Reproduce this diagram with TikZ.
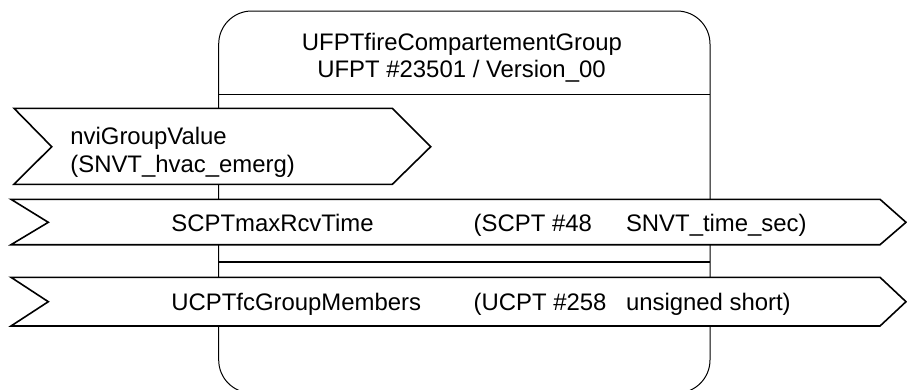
\documentclass[tikz,border=0pt]{standalone}
\usepackage{fontspec}
\setmainfont{Liberation Sans}
\begin{document}
\begin{tikzpicture}[x=1pt,y=-1pt,
  txt/.style={inner sep=0pt, anchor=base west, font=\fontsize{23.9}{27}\selectfont},
  ctxt/.style={inner sep=0pt, anchor=base, font=\fontsize{23.9}{27}\selectfont},
  flow/.style={draw, fill=white, line width=1.6pt, line join=miter},
  sep/.style={line width=1.6pt},
]
\useasboundingbox (0,0) rectangle (907,389);
% functional block outline (cut at the bottom)
\draw[line width=1pt, rounded corners=33pt] (218.7,393) rectangle (710,11);
\coordinate (hL) at (218.7,94.3);
\coordinate (hR) at (710,94.3);
\draw[sep] (hL) -- (hR);
\coordinate (mL) at (218.7,261.7);
\coordinate (mR) at (710,261.7);
\draw[sep] (mL) -- (mR);
% title
\node[ctxt] (title1) at (462,50) {UFPTfireCompartementGroup};
\node[ctxt] (title2) at (461.5,77.7) {UFPT \#23501 / Version\_00};
% network variable input
\draw[flow] (14,108.3) -- (392.3,108.3) -- (430.7,146.7) -- (392.3,184.3) -- (14,184.3) -- (51.7,146.7) -- cycle;
\node[txt] (nvi1) at (70.2,144.5) {nviGroupValue};
\node[txt] (nvi2) at (70.2,172) {(SNVT\_hvac\_emerg)};
% configuration property 1
\draw[flow] (11,199.3) -- (880,199.3) -- (906,222.3) -- (880,244.7) -- (11,244.7) -- (48.3,222.3) -- cycle;
\node[txt] (cp1name) at (171.2,231.7) {SCPTmaxRcvTime};
\node[txt] (cp1num) at (473.5,231.7) {(SCPT \#48};
\node[txt] (cp1type) at (625.8,231.7) {SNVT\_time\_sec)};
% configuration property 2
\draw[flow] (11,277.3) -- (880,277.3) -- (906,301.7) -- (880,326) -- (11,326) -- (48.3,301.7) -- cycle;
\node[txt] (cp2name) at (171.2,310) {UCPTfcGroupMembers};
\node[txt] (cp2num) at (473.5,310) {(UCPT \#258};
\node[txt] (cp2type) at (625.8,310) {unsigned short)};
\end{tikzpicture}
\end{document}
